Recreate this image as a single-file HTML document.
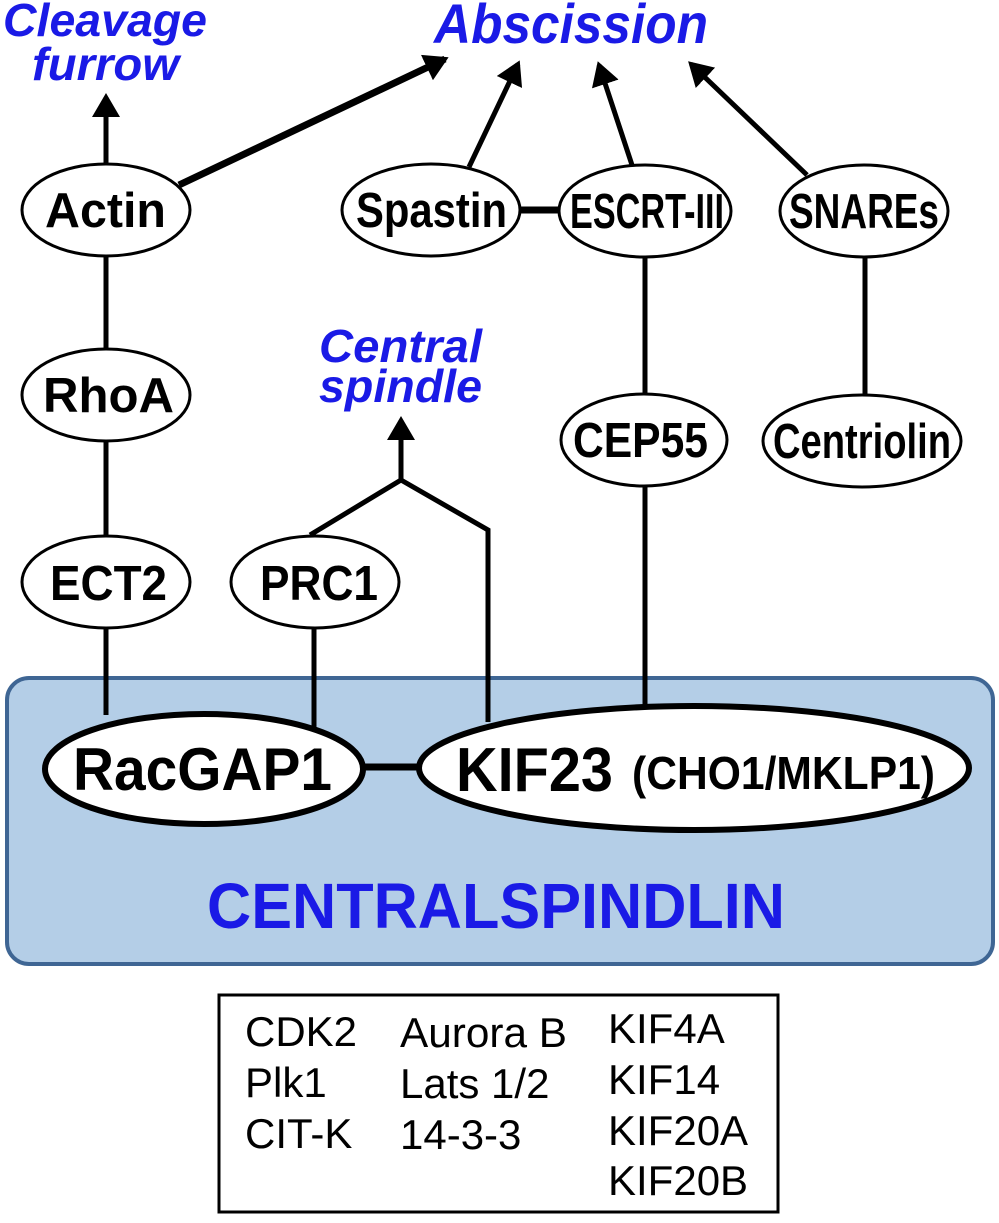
<!DOCTYPE html>
<html><head><meta charset="utf-8"><style>
html,body{margin:0;padding:0;background:#fff;}
svg{display:block;}
</style></head><body>
<svg width="999" height="1223" viewBox="0 0 999 1223" xmlns="http://www.w3.org/2000/svg">
<defs>
<marker id="ah" viewBox="0 0 24 28" refX="20" refY="14" markerWidth="24" markerHeight="28" markerUnits="userSpaceOnUse" orient="auto">
<path d="M0,0 L24,14 L0,28 z" fill="#000"/></marker>
</defs>
<rect x="7" y="678" width="986" height="286" rx="22" fill="#b4cee7" stroke="#3f6694" stroke-width="4"/>

<g stroke="#000" stroke-width="5" fill="none">
<line x1="106" y1="163" x2="106" y2="97" marker-end="url(#ah)"/>
<line x1="179" y1="185" x2="445" y2="59" stroke-width="7" marker-end="url(#ah)"/>
<line x1="469" y1="167" x2="518" y2="64" marker-end="url(#ah)"/>
<line x1="632" y1="165" x2="599" y2="65" marker-end="url(#ah)"/>
<line x1="807" y1="175" x2="691" y2="64" marker-end="url(#ah)"/>
<line x1="520" y1="210" x2="560" y2="210" stroke-width="7"/>
<line x1="106" y1="257" x2="106" y2="348"/>
<line x1="106" y1="442" x2="106" y2="536"/>
<line x1="106" y1="628" x2="106" y2="715"/>
<line x1="645" y1="257" x2="645" y2="393"/>
<line x1="865" y1="258" x2="865" y2="395"/>
<line x1="645" y1="487" x2="645" y2="706"/>
<line x1="401" y1="480" x2="401" y2="420" marker-end="url(#ah)"/>
<polyline points="310,535 401,480 488,530 488,722"/>
<line x1="314" y1="628" x2="314" y2="728"/>
<line x1="363" y1="767" x2="420" y2="767" stroke-width="7"/>
</g>

<g fill="#fff" stroke="#000" stroke-width="3">
<ellipse cx="106" cy="210" rx="84" ry="46"/>
<ellipse cx="431" cy="210" rx="89" ry="46"/>
<ellipse cx="645" cy="211" rx="86" ry="46"/>
<ellipse cx="864" cy="211" rx="84" ry="46"/>
<ellipse cx="106" cy="395" rx="84" ry="46"/>
<ellipse cx="644" cy="440" rx="83" ry="46"/>
<ellipse cx="862" cy="441" rx="99" ry="46"/>
<ellipse cx="106" cy="582" rx="84" ry="46"/>
<ellipse cx="315" cy="582" rx="84" ry="46"/>
<ellipse cx="204" cy="769" rx="159" ry="55" stroke-width="6"/>
<ellipse cx="694" cy="768" rx="275" ry="62" stroke-width="6"/>
</g>

<g font-family="Liberation Sans, sans-serif" fill="#000" font-size="49" font-weight="bold">
<text x="45" y="227" textLength="121" lengthAdjust="spacingAndGlyphs">Actin</text>
<text x="356" y="227" textLength="151" lengthAdjust="spacingAndGlyphs">Spastin</text>
<text x="570" y="228" textLength="154" lengthAdjust="spacingAndGlyphs">ESCRT-III</text>
<text x="789" y="228" textLength="150" lengthAdjust="spacingAndGlyphs">SNAREs</text>
<text x="43" y="412" textLength="131" lengthAdjust="spacingAndGlyphs">RhoA</text>
<text x="573" y="457" textLength="135" lengthAdjust="spacingAndGlyphs">CEP55</text>
<text x="773" y="458" textLength="178" lengthAdjust="spacingAndGlyphs">Centriolin</text>
<text x="50" y="600" textLength="117" lengthAdjust="spacingAndGlyphs">ECT2</text>
<text x="260" y="600" textLength="118" lengthAdjust="spacingAndGlyphs">PRC1</text>
</g>
<g font-family="Liberation Sans, sans-serif" font-weight="bold" fill="#000">
<text x="73" y="790" font-size="60" textLength="259" lengthAdjust="spacingAndGlyphs">RacGAP1</text>
<text x="456" y="791" font-size="62" textLength="157" lengthAdjust="spacingAndGlyphs">KIF23</text>
<text x="632" y="789" font-size="46" textLength="303" lengthAdjust="spacingAndGlyphs">(CHO1/MKLP1)</text>
</g>
<g font-family="Liberation Sans, sans-serif" font-weight="bold" fill="#1a1ae6">
<text x="207" y="928" font-size="64" textLength="578" lengthAdjust="spacingAndGlyphs">CENTRALSPINDLIN</text>
</g>
<g font-family="Liberation Sans, sans-serif" font-weight="bold" font-style="italic" fill="#1a1ae6">
<text x="3" y="36" font-size="46" textLength="204" lengthAdjust="spacingAndGlyphs">Cleavage</text>
<text x="32" y="80" font-size="46" textLength="147" lengthAdjust="spacingAndGlyphs">furrow</text>
<text x="434" y="43" font-size="56" textLength="274" lengthAdjust="spacingAndGlyphs">Abscission</text>
<text x="319" y="362" font-size="46" textLength="163" lengthAdjust="spacingAndGlyphs">Central</text>
<text x="319" y="402" font-size="46" textLength="163" lengthAdjust="spacingAndGlyphs">spindle</text>
</g>

<rect x="219" y="995" width="559" height="217" fill="none" stroke="#000" stroke-width="3"/>
<g font-family="Liberation Sans, sans-serif" font-size="42" fill="#000">
<text x="245" y="1046" textLength="112" lengthAdjust="spacingAndGlyphs">CDK2</text>
<text x="245" y="1097">Plk1</text>
<text x="245" y="1148">CIT-K</text>
<text x="400" y="1047" textLength="167" lengthAdjust="spacingAndGlyphs">Aurora B</text>
<text x="400" y="1098">Lats 1/2</text>
<text x="400" y="1149">14-3-3</text>
<text x="608" y="1043">KIF4A</text>
<text x="608" y="1094">KIF14</text>
<text x="608" y="1145">KIF20A</text>
<text x="608" y="1195">KIF20B</text>
</g>
</svg>
</body></html>
